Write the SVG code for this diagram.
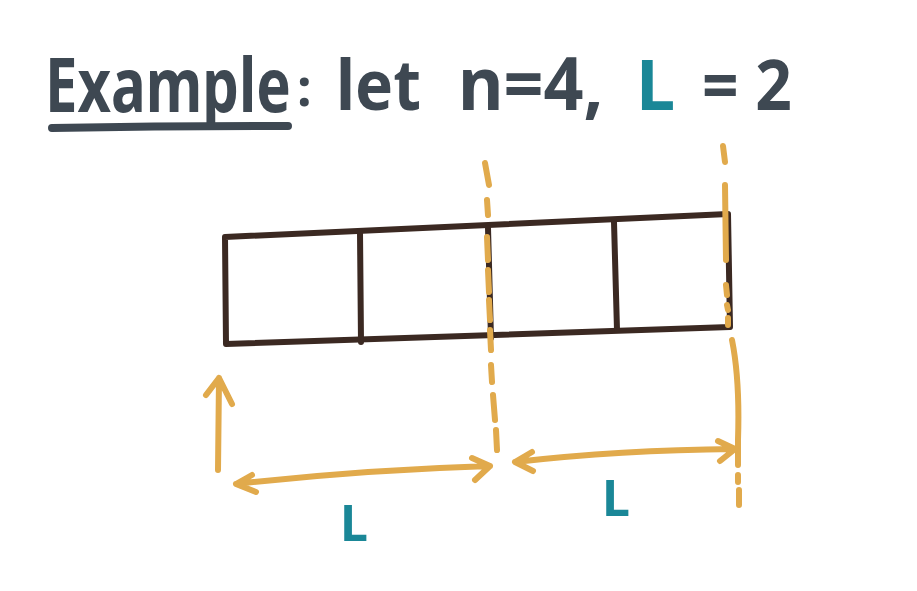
<svg xmlns="http://www.w3.org/2000/svg" width="917" height="591" viewBox="0 0 917 591">
<style>
.t{font-family:"Noto Sans","Liberation Sans",sans-serif;fill:#3e4852;font-weight:bold}
.teal{font-family:"Noto Sans","Liberation Sans",sans-serif;fill:#1a8797;font-weight:bold}
.box{stroke:#3b2922;stroke-width:6;fill:none;stroke-linecap:round;stroke-linejoin:round}
.or{stroke:#e1aa4c;stroke-width:6;fill:none;stroke-linecap:round;stroke-linejoin:round}
</style>
<rect width="917" height="591" fill="#ffffff"/>
<g id="title">
<text class="t" transform="translate(45,112) scale(1,1.3)" x="0" y="0" font-size="58">Example</text>
<path d="M52 128 Q170 126 288 126" stroke="#3e4852" stroke-width="8" fill="none" stroke-linecap="round"/>
<text class="t" x="297" y="106" font-size="52">:</text>
<text class="t" transform="translate(336,110) scale(1,1.1)" x="0" y="0" font-size="64">let</text>
<text class="t" transform="translate(458,110) scale(1,1.05)" x="0" y="0" font-size="70">n=4,</text>
<text class="teal" x="636" y="110" font-size="70">L</text>
<text class="t" transform="translate(702,110) scale(1,1.1)" x="0" y="0" font-size="64">= 2</text>
</g>
<g id="array">
<path class="box" d="M225 237 L728 214 L730 327 L226 344 Z"/>
<path class="box" d="M360 232 L361 342"/>
<path class="box" d="M488 228 L491 338"/>
<path class="box" d="M614 222 L617 330"/>
</g>
<g id="connectors">
<path class="or" d="M485 163 L489 185 M487 200 L488 215 M487 237 L488 260 M488 270 L489 292 M489 300 L490 320 M490 330 L491 350 M491 365 L492 382 M493 395 L495 420 M496 430 L497 450"/>
<path class="or" d="M723 146 L725 162 M725 185 L726 260 M726 285 L727 295 M727 305 L728 310 M728 318 L728 325 M732 340 Q740 380 738 440 L738 465 M738 475 L738 482 M739 490 L739 505"/>
<path class="or" d="M218 470 L219 378 M206 395 L219 378 L232 404"/>
<path class="or" d="M236 484 Q360 470 490 466 M252 475 L236 484 L256 492 M472 458 L490 466 L475 480"/>
<path class="or" d="M515 462 Q620 450 735 449 M532 452 L515 462 L533 471 M718 441 L735 449 L720 461"/>
</g>
<g id="labels">
<text class="teal" x="340" y="541" font-size="50">L</text>
<text class="teal" x="602" y="516" font-size="50">L</text>
</g>
</svg>
